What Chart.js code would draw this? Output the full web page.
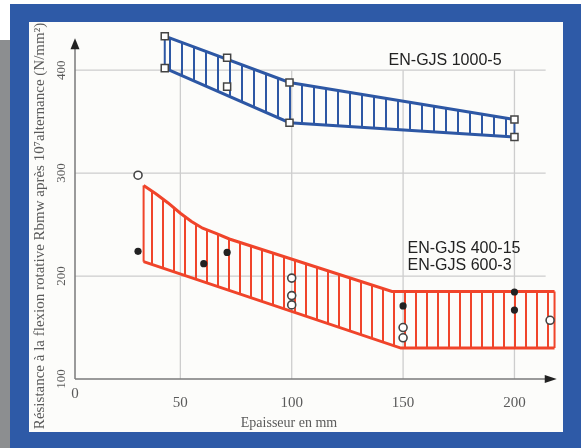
<!DOCTYPE html>
<html>
<head>
<meta charset="utf-8">
<script src="https://cdn.jsdelivr.net/npm/chart.js@4.4.1/dist/chart.umd.min.js"></script>
<style>
  html, body { margin: 0; padding: 0; background: #fff; }
  #page { position: relative; width: 581px; height: 448px; overflow: hidden; }
  .strip { position: absolute; left: 0; top: 40px; width: 10px; height: 408px; background: #8c8e90; }
  .frame { position: absolute; left: 10px; top: 4px; right: 0; bottom: 0; background: #2e5aa7; }
  .panel { position: absolute; left: 29px; top: 22px; width: 534px; height: 410px; background: #fcfcfa; }
  canvas { position: absolute; left: 0; top: 0; }
</style>
</head>
<body>
<div id="page">
  <div class="strip"></div>
  <div class="frame"></div>
  <div class="panel"></div>
  <canvas id="chart" width="581" height="448"></canvas>
</div>
<script>
    // Colors / fonts
    const SERIF = '"Liberation Serif", "Times New Roman", serif';
    const SANS = '"Liberation Sans", Arial, sans-serif';
    const BLUE = '#2d57a4';
    const RED = '#f0442a';
    const GRID = '#cdcdcd';
    const AXIS = '#7a7a7a';
    const TEXT = '#5a5a5a';

    // Axes
    const xTicks = [50, 100, 150, 200];
    const yTicks = [100, 200, 300, 400];
    const xRange = [2.7, 220];
    const yRange = [100, 440];
    const axisTip = { x: 219, y: 431 };
    const gridTop = 400;
    const gridRight = 214;
    const originLabel = '0';
    const xTitle = 'Epaisseur en mm';
    const yTitle = 'Résistance à la flexion rotative Rbmw après 10⁷alternance (N/mm²)';

    // EN-GJS 1000-5 band
    const blueUpper = [{ x: 43, y: 433 }, { x: 99, y: 388 }, { x: 200, y: 352 }];
    const blueLower = [{ x: 43, y: 402 }, { x: 99, y: 349 }, { x: 200, y: 335 }];
    const blueSquares = [
        { x: 43, y: 433 }, { x: 43, y: 402 }, { x: 71, y: 412 }, { x: 71, y: 384 },
        { x: 99, y: 388 }, { x: 99, y: 349 }, { x: 200, y: 352 }, { x: 200, y: 335 }
    ];

    // EN-GJS 400-15 / 600-3 band
    const redUpper = [
        { x: 33.5, y: 288 }, { x: 39, y: 280 }, { x: 44.5, y: 271 }, { x: 50, y: 261 },
        { x: 55, y: 253 }, { x: 60, y: 246.5 }, { x: 66, y: 241.5 }, { x: 72, y: 236 },
        { x: 145, y: 185 }, { x: 218, y: 185 }
    ];
    const redLower = [{ x: 33.5, y: 214 }, { x: 149, y: 130 }, { x: 218, y: 130 }];
    const redOpen = [
        { x: 31, y: 298 }, { x: 100, y: 198 }, { x: 100, y: 181 }, { x: 100, y: 172 },
        { x: 150, y: 150 }, { x: 150, y: 140 }, { x: 216, y: 157 }
    ];
    const redFilled = [
        { x: 31, y: 224 }, { x: 60.5, y: 212 }, { x: 71, y: 223 },
        { x: 150, y: 171 }, { x: 200, y: 184.5 }, { x: 200, y: 167 }
    ];

    const seriesLabels = [
        { text: 'EN-GJS 1000-5', x: 143.5, y: 409.5 },
        { text: 'EN-GJS 400-15', x: 152, y: 227 },
        { text: 'EN-GJS 600-3', x: 152, y: 210.5 }
    ];

    const canvas = document.getElementById('chart');
    const ctx0 = canvas.getContext('2d');

    function stripes(color, step, offset) {
        const tile = document.createElement('canvas');
        tile.width = step;
        tile.height = 4;
        const g = tile.getContext('2d');
        g.fillStyle = color;
        g.fillRect(offset, 0, 2, 4);
        return ctx0.createPattern(tile, 'repeat');
    }

    const bandLine = (data, color, fill, pattern) => ({
        data: data, showLine: true, borderColor: color, borderWidth: 3,
        pointRadius: 0, tension: 0, fill: fill, backgroundColor: pattern || 'transparent'
    });

    const cap = (a, b, color) => ({
        data: [a, b], showLine: true, borderColor: color, borderWidth: 2, pointRadius: 0, fill: false
    });

    function line(ctx, x1, y1, x2, y2) {
        ctx.beginPath();
        ctx.moveTo(x1, y1);
        ctx.lineTo(x2, y2);
        ctx.stroke();
    }

    const decor = {
        id: 'decor',
        beforeDraw(chart) {
            const ctx = chart.ctx;
            const xs = chart.scales.x, ys = chart.scales.y;
            const x0 = xs.getPixelForValue(xRange[0]);
            const y0 = ys.getPixelForValue(yRange[0]);
            const xt = xs.getPixelForValue(axisTip.x);
            const yt = ys.getPixelForValue(axisTip.y);
            ctx.save();
            ctx.strokeStyle = GRID;
            ctx.lineWidth = 1.3;
            yTicks.slice(1).forEach(v => {
                const p = ys.getPixelForValue(v);
                line(ctx, x0, p, xs.getPixelForValue(gridRight), p);
            });
            xTicks.forEach(v => {
                const p = xs.getPixelForValue(v);
                line(ctx, p, ys.getPixelForValue(gridTop), p, y0);
            });
            ctx.strokeStyle = AXIS;
            ctx.lineWidth = 1.5;
            line(ctx, x0, y0, x0, yt + 10);
            line(ctx, x0, y0, xt - 10, y0);
            ctx.fillStyle = '#222';
            ctx.beginPath();
            ctx.moveTo(x0, yt); ctx.lineTo(x0 - 4.5, yt + 11); ctx.lineTo(x0 + 4.5, yt + 11);
            ctx.closePath(); ctx.fill();
            ctx.beginPath();
            ctx.moveTo(xt, y0); ctx.lineTo(xt - 12, y0 - 4); ctx.lineTo(xt - 12, y0 + 4);
            ctx.closePath(); ctx.fill();
            ctx.restore();
        },
        afterDraw(chart) {
            const ctx = chart.ctx;
            const xs = chart.scales.x, ys = chart.scales.y;
            ctx.save();
            ctx.fillStyle = TEXT;
            ctx.textAlign = 'center';
            ctx.textBaseline = 'middle';
            ctx.font = '15px ' + SERIF;
            ctx.fillText(originLabel, xs.getPixelForValue(xRange[0]), 394);
            ctx.font = '14px ' + SERIF;
            ctx.fillText(xTitle, 289, 423);
            ctx.save();
            ctx.translate(40, 226);
            ctx.rotate(-Math.PI / 2);
            ctx.font = '15px ' + SERIF;
            ctx.fillText(yTitle, 0, 0);
            ctx.restore();
            ctx.fillStyle = '#222';
            ctx.textAlign = 'left';
            ctx.font = '16px ' + SANS;
            seriesLabels.forEach(l => {
                ctx.fillText(l.text, xs.getPixelForValue(l.x), ys.getPixelForValue(l.y));
            });
            ctx.restore();
        }
    };

    new Chart(canvas, {
        type: 'scatter',
        data: {
            datasets: [
                {
                    data: blueSquares, pointStyle: 'rect', pointRadius: 5,
                    pointBackgroundColor: '#fff', pointBorderColor: '#444', pointBorderWidth: 1.5
                },
                {
                    data: redOpen, pointStyle: 'circle', pointRadius: 4,
                    pointBackgroundColor: '#fff', pointBorderColor: '#444', pointBorderWidth: 1.6
                },
                {
                    data: redFilled, pointStyle: 'circle', pointRadius: 3.6,
                    pointBackgroundColor: '#222', pointBorderColor: '#222', pointBorderWidth: 0
                },
                bandLine(blueUpper, BLUE, '+1', stripes(BLUE, 12, 1)),
                bandLine(blueLower, BLUE, false),
                bandLine(redUpper, RED, '+1', stripes(RED, 11, 8)),
                bandLine(redLower, RED, false),
                cap(blueUpper[0], blueLower[0], BLUE),
                cap(blueUpper[blueUpper.length - 1], blueLower[blueLower.length - 1], BLUE),
                cap(redUpper[0], redLower[0], RED),
                cap(redUpper[redUpper.length - 1], redLower[redLower.length - 1], RED),
            ],
        },
        options: {
            responsive: false,
            animation: false,
            events: [],
            layout: { padding: { top: 29, right: 22, left: 0, bottom: 0 } },
            plugins: {
                legend: { display: false },
                tooltip: { enabled: false },
            },
            scales: {
                x: {
                    type: 'linear',
                    min: xRange[0],
                    max: xRange[1],
                    afterBuildTicks: s => { s.ticks = xTicks.map(v => ({ value: v })); },
                    afterFit: s => { s.height = 69; },
                    grid: { display: false, drawTicks: false },
                    border: { display: false },
                    ticks: { color: TEXT, font: { family: SERIF, size: 15 }, padding: 15 },
                },
                y: {
                    type: 'linear',
                    min: yRange[0],
                    max: yRange[1],
                    afterBuildTicks: s => { s.ticks = yTicks.map(v => ({ value: v })); },
                    afterFit: s => { s.width = 75; },
                    grid: { display: false, drawTicks: false },
                    border: { display: false },
                    ticks: {
                        color: TEXT, font: { family: SERIF, size: 13 }, padding: 4,
                        minRotation: 90, maxRotation: 90, crossAlign: 'center'
                    },
                },
            },
        },
        plugins: [decor],
    });
</script>
</body>
</html>
